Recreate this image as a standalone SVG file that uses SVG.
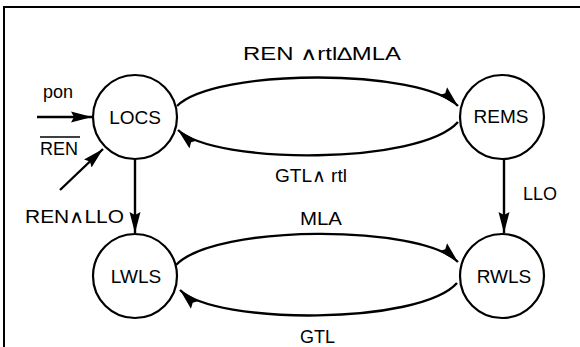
<svg xmlns="http://www.w3.org/2000/svg" width="580" height="347" viewBox="0 0 580 347">
<style>
  .frame{fill:none;stroke:#000;stroke-width:2}
  .node circle{fill:#fff;stroke:#000;stroke-width:2.2}
  .node text{font-family:"Liberation Sans",Arial,sans-serif;font-size:19px;text-anchor:middle;fill:#000}
  .edge{fill:none;stroke:#000;stroke-width:2.4;marker-end:url(#ah)}
  .lbl{font-family:"Liberation Sans",Arial,sans-serif;font-size:18px;fill:#000}
</style>
<defs>
  <marker id="ah" markerUnits="userSpaceOnUse" markerWidth="22" markerHeight="12" refX="21" refY="6" orient="auto">
    <path d="M0,0.5 L21,6 L0,11.5 L3,6 z" fill="#000"/>
  </marker>
</defs>
<rect width="580" height="347" fill="#fff"/>
<path class="frame" d="M4,347 L4,7 L580,7"/>

<g id="connectors">
  <path class="edge" d="M177,106 C215,68 420,68 458,106"/>
  <path class="edge" d="M458,122 C420,165 215,165 178,130"/>
  <path class="edge" d="M176,265 C215,224 420,224 458,262"/>
  <path class="edge" d="M457,283 C420,325 215,325 180,290"/>
  <path class="edge" d="M135,159 L135,233"/>
  <path class="edge" d="M504,160 L504,233"/>
  <path class="edge" d="M37,117 L92,117"/>
  <path class="edge" d="M60,190 L103,149"/>
</g>

<g id="labels">
  <text class="lbl" x="243" y="60" textLength="158" lengthAdjust="spacingAndGlyphs">REN ∧rtl∆MLA</text>
  <text class="lbl" x="275" y="182" textLength="72" lengthAdjust="spacingAndGlyphs">GTL∧ rtl</text>
  <text class="lbl" x="25" y="223" textLength="99" lengthAdjust="spacingAndGlyphs">REN∧LLO</text>
  <text class="lbl" x="300" y="225" textLength="42" lengthAdjust="spacingAndGlyphs">MLA</text>
  <text class="lbl" x="300" y="343">GTL</text>
  <text class="lbl" x="523" y="200">LLO</text>
  <text class="lbl" x="43" y="98">pon</text>
  <text class="lbl" x="40" y="155">REN</text>
  <path d="M40,137 L80,137" stroke="#000" stroke-width="1.5"/>
</g>

<g id="LOCS" class="node"><circle cx="135" cy="117" r="42"/><text x="135" y="124">LOCS</text></g>
<g id="REMS" class="node"><circle cx="502" cy="117" r="42"/><text x="501" y="123">REMS</text></g>
<g id="LWLS" class="node"><circle cx="135" cy="276" r="42"/><text x="136" y="283">LWLS</text></g>
<g id="RWLS" class="node"><circle cx="502" cy="276" r="42"/><text x="504" y="283">RWLS</text></g>
</svg>
